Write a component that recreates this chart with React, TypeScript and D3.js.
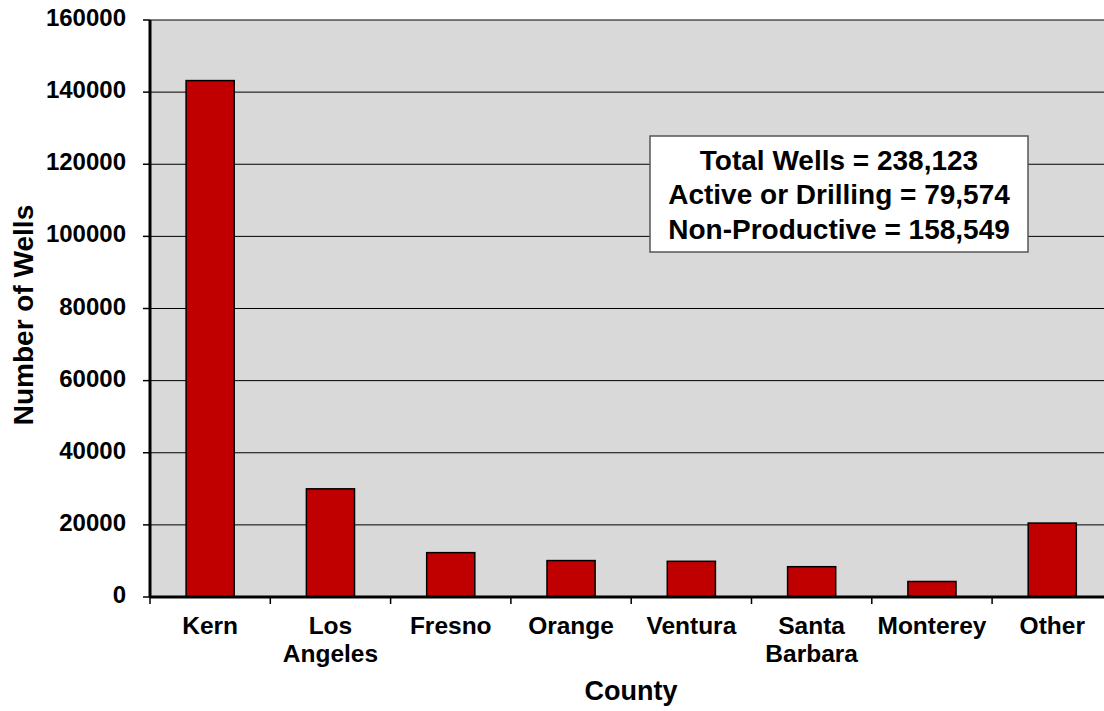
import React from "react";
import * as d3 from "d3";

const counties: string[][] = [
  ["Kern"],
  ["Los", "Angeles"],
  ["Fresno"],
  ["Orange"],
  ["Ventura"],
  ["Santa", "Barbara"],
  ["Monterey"],
  ["Other"],
];
const wells: number[] = [143200, 30000, 12300, 10100, 9900, 8400, 4300, 20500];
const yTicks: number[] = [0, 20000, 40000, 60000, 80000, 100000, 120000, 140000, 160000];
const summaryLines: string[] = [
  "Total Wells = 238,123",
  "Active or Drilling = 79,574",
  "Non-Productive = 158,549",
];

const W = 1104;
const H = 711;
const M = { left: 150, top: 20, right: 1112.4, bottom: 597 };
const FONT = "'Liberation Sans', Arial, sans-serif";

export default function App() {
  const keys = counties.map((c) => c.join(" "));
  const x = d3.scaleBand<string>().domain(keys).range([M.left, M.right]).padding(0);
  const y = d3.scaleLinear().domain([0, 160000]).range([M.bottom, M.top]);
  const bw = x.bandwidth();
  const boundaries = d3.range(keys.length + 1).map((i) => M.left + i * bw);

  return (
    <svg
      width={W}
      height={H}
      style={{ position: "absolute", left: 0, top: 0, background: "#fff" }}
      fontFamily={FONT}
      fontWeight="bold"
    >
      <rect x={M.left} y={M.top} width={M.right - M.left} height={M.bottom - M.top} fill="#d9d9d9" />
      {yTicks.map((t) => (
        <g key={t}>
          {t > 0 && (
            <line x1={M.left} x2={M.right} y1={y(t)} y2={y(t)} stroke="#000" strokeWidth={1} />
          )}
          <line x1={M.left - 7} x2={M.left} y1={y(t)} y2={y(t)} stroke="#000" strokeWidth={1.5} />
          <text x={126} y={y(t) + 6} textAnchor="end" fontSize={24} fill="#000">
            {t}
          </text>
        </g>
      ))}
      {wells.map((v, i) => (
        <rect
          key={keys[i]}
          x={(x(keys[i]) as number) + bw * 0.3}
          width={bw * 0.4}
          y={y(v)}
          height={y(0) - y(v)}
          fill="#c00000"
          stroke="#000"
          strokeWidth={1.5}
        />
      ))}
      <line x1={M.left} x2={M.left} y1={M.top} y2={M.bottom} stroke="#000" strokeWidth={3} />
      <line x1={M.left} x2={M.right} y1={M.bottom} y2={M.bottom} stroke="#000" strokeWidth={3} />
      {boundaries.map((b, i) => (
        <line key={i} x1={b} x2={b} y1={M.bottom} y2={M.bottom + 7} stroke="#000" strokeWidth={1.5} />
      ))}
      {counties.map((lines, i) => (
        <text
          key={keys[i]}
          x={(x(keys[i]) as number) + bw / 2}
          y={634}
          textAnchor="middle"
          fontSize={24.5}
          fill="#000"
        >
          {lines.map((l, j) => (
            <tspan key={j} x={(x(keys[i]) as number) + bw / 2} dy={j === 0 ? 0 : 28}>
              {l}
            </tspan>
          ))}
        </text>
      ))}
      <text x={631} y={700} textAnchor="middle" fontSize={27} fill="#000">
        County
      </text>
      <text
        transform={`translate(33,${315}) rotate(-90)`}
        textAnchor="middle"
        fontSize={28}
        fill="#000"
      >
        Number of Wells
      </text>
      <rect x={650} y={136} width={378} height={116} fill="#fff" stroke="#555" strokeWidth={1.5} />
      {summaryLines.map((s, i) => (
        <text key={i} x={839} y={169.5 + i * 34.5} textAnchor="middle" fontSize={28} fill="#000">
          {s}
        </text>
      ))}
    </svg>
  );
}
